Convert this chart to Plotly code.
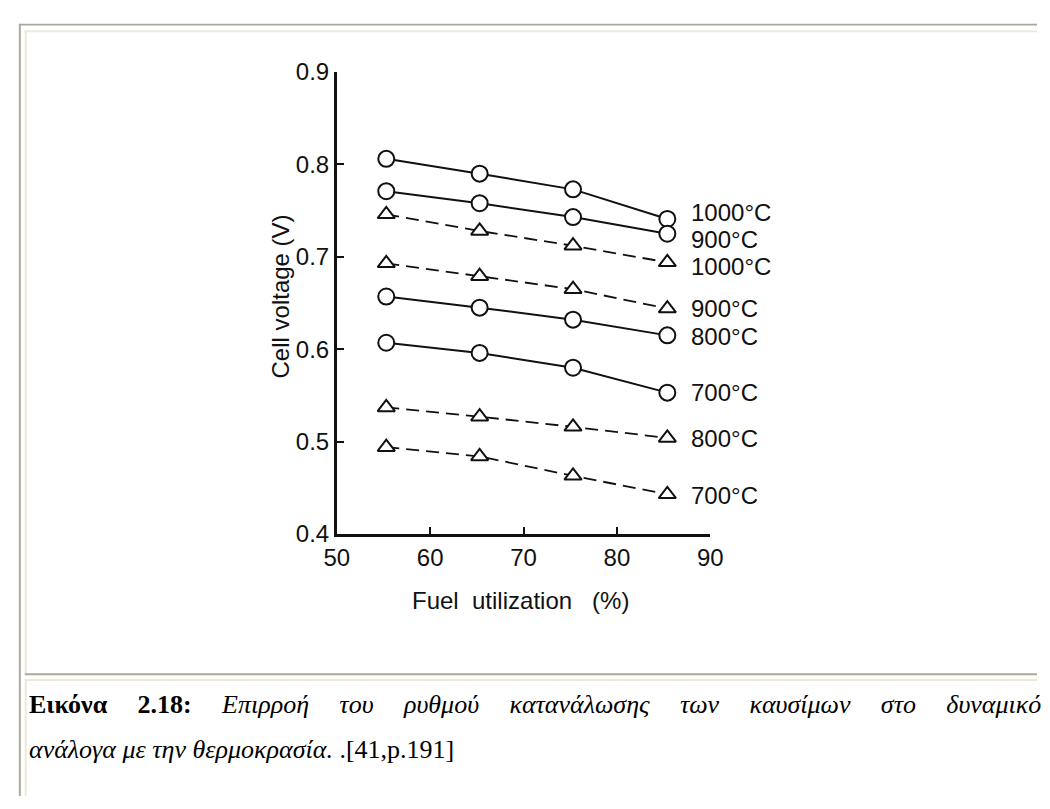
import plotly.graph_objects as go

# ---- data ----
fuel_util = [55.3, 65.3, 75.3, 85.4]

circ_1000 = [0.806, 0.790, 0.773, 0.741]
circ_900 = [0.771, 0.758, 0.743, 0.725]
circ_800 = [0.657, 0.645, 0.632, 0.615]
circ_700 = [0.607, 0.596, 0.580, 0.553]

tri_1000 = [0.746, 0.728, 0.712, 0.694]
tri_900 = [0.693, 0.679, 0.665, 0.644]
tri_800 = [0.537, 0.527, 0.516, 0.504]
tri_700 = [0.494, 0.484, 0.463, 0.443]

label_text = ["1000°C", "900°C", "1000°C", "900°C", "800°C", "700°C", "800°C", "700°C"]
label_y = [0.748, 0.719, 0.689, 0.644, 0.614, 0.553, 0.503, 0.442]
label_x = 87.7

x_ticks = [50, 60, 70, 80, 90]
y_ticks = [0.4, 0.5, 0.6, 0.7, 0.8, 0.9]

caption_bold = "Εικόνα 2.18:"
caption_line1 = ["Επιρροή", "του", "ρυθμού", "κατανάλωσης", "των", "καυσίμων", "στο", "δυναμικό"]
caption_line2_it = "ανάλογα με την θερμοκρασία."
caption_ref = ".[41,p.191]"

W, H = 1050, 809
BLACK = "#111111"
DARK = "#aca899"
LIGHT = "#ece9d8"
SANS = "Liberation Sans, Arial, Helvetica, sans-serif"
SERIF = "Liberation Serif, Times New Roman, serif"

fig = go.Figure()

solid_series = [circ_1000, circ_900, circ_800, circ_700]
dashed_series = [tri_1000, tri_900, tri_800, tri_700]

for ys in dashed_series:
    fig.add_trace(go.Scatter(
        x=fuel_util, y=ys, mode="lines+markers",
        line=dict(color=BLACK, width=1.8, dash="13px,7px"),
        marker=dict(symbol="triangle-up", size=15, color="white",
                    line=dict(color=BLACK, width=2)),
        showlegend=False, hoverinfo="skip"))

for ys in solid_series:
    fig.add_trace(go.Scatter(
        x=fuel_util, y=ys, mode="lines+markers",
        line=dict(color=BLACK, width=2),
        marker=dict(symbol="circle", size=16, color="white",
                    line=dict(color=BLACK, width=2)),
        showlegend=False, hoverinfo="skip"))

annotations = []
for t, yv in zip(label_text, label_y):
    annotations.append(dict(x=label_x, y=yv, xref="x", yref="y", text=t,
                            showarrow=False, xanchor="left", yanchor="middle",
                            font=dict(family=SANS, size=24, color=BLACK)))

def px(x):
    return x / W

def py(y):
    return 1 - y / H

# axis titles
annotations.append(dict(x=px(274), y=py(292), xref="paper", yref="paper",
                        text="Cell voltage (V)", textangle=-90, showarrow=False,
                        xanchor="center", yanchor="middle",
                        font=dict(family=SANS, size=24, color=BLACK)))
annotations.append(dict(x=px(520), y=py(607), xref="paper", yref="paper",
                        text="Fuel\u00a0 utilization\u00a0\u00a0 (%)", showarrow=False,
                        xanchor="center", yanchor="middle",
                        font=dict(family=SANS, size=24, color=BLACK)))

# caption (first line justified with wider gaps)
gap = "\u00a0" * 4 + "\u2006"
line1 = "<b>" + caption_bold.replace(" ", gap) + "</b>" + gap + "<i>" + gap.join(caption_line1) + "</i>"
annotations.append(dict(x=px(14), y=py(714), xref="paper", yref="paper",
                        text=line1,
                        showarrow=False, xanchor="left", yanchor="middle",
                        font=dict(family=SERIF, size=26, color="black")))
annotations.append(dict(x=px(14), y=py(761), xref="paper", yref="paper",
                        text="<i>" + caption_line2_it + "</i> " + caption_ref,
                        showarrow=False, xanchor="left", yanchor="middle",
                        font=dict(family=SERIF, size=26, color="black")))

shapes = [
    dict(type="rect", xref="paper", yref="paper", x0=px(6), x1=px(1050), y0=py(12), y1=py(10),
         fillcolor=DARK, line=dict(width=0), layer="below"),
    dict(type="rect", xref="paper", yref="paper", x0=px(6), x1=px(8), y0=py(809), y1=py(10),
         fillcolor=DARK, line=dict(width=0), layer="below"),
    dict(type="rect", xref="paper", yref="paper", x0=px(12), x1=px(1050), y0=py(19), y1=py(17),
         fillcolor=LIGHT, line=dict(width=0), layer="below"),
    dict(type="rect", xref="paper", yref="paper", x0=px(12), x1=px(14), y0=py(682), y1=py(17),
         fillcolor=LIGHT, line=dict(width=0), layer="below"),
    dict(type="rect", xref="paper", yref="paper", x0=px(12), x1=px(1050), y0=py(684), y1=py(682),
         fillcolor=DARK, line=dict(width=0), layer="below"),
    dict(type="rect", xref="paper", yref="paper", x0=px(12), x1=px(1050), y0=py(690), y1=py(688),
         fillcolor=LIGHT, line=dict(width=0), layer="below"),
    dict(type="rect", xref="paper", yref="paper", x0=px(12), x1=px(14), y0=py(809), y1=py(688),
         fillcolor=LIGHT, line=dict(width=0), layer="below"),
]

fig.update_layout(
    width=W, height=H,
    margin=dict(l=0, r=0, t=0, b=0),
    paper_bgcolor="white", plot_bgcolor="white",
    showlegend=False,
    annotations=annotations,
    shapes=shapes,
    xaxis=dict(domain=[px(332), px(715)], range=[50, 90],
               tickvals=x_ticks, ticktext=[str(v) for v in x_ticks],
               ticks="inside", ticklen=7, tickwidth=2, tickcolor=BLACK,
               showline=True, linecolor=BLACK, linewidth=2.5,
               showgrid=False, zeroline=False,
               tickfont=dict(family=SANS, size=24, color=BLACK)),
    yaxis=dict(domain=[py(538), py(60)], range=[0.4, 0.9],
               tickvals=y_ticks, ticktext=["%.1f" % v for v in y_ticks],
               ticks="inside", ticklen=7, tickwidth=2, tickcolor=BLACK,
               showline=True, linecolor=BLACK, linewidth=2.5,
               showgrid=False, zeroline=False,
               tickfont=dict(family=SANS, size=24, color=BLACK)),
)

fig.write_html("out.html")
